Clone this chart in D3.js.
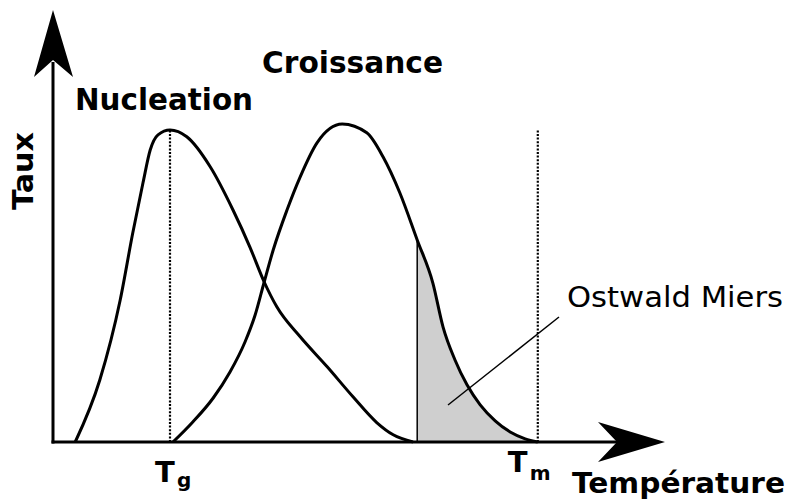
<!DOCTYPE html>
<html>
<head lang="fr">
    <meta charset="UTF-8">
    <title>Nucleation Croissance</title>
    <script type="text/javascript" src="https://cdn.jsdelivr.net/npm/d3@7/dist/d3.min.js"></script>
    <style>
        body { margin: 0; background: #fff; }
        text { font-family: "DejaVu Sans", sans-serif; fill: #000; }
    </style>
</head>
<body>
<svg id="mainSvg"></svg>
<script>
    var w = 787, h = 500;

    // temperature (0..100) and rate (0..100)
    var nucleationT = [3.7, 7.8, 11.2, 13.3, 15, 16.2, 17.5, 19.5, 22.3, 26.2, 30, 32.8, 35.2, 37.3, 41.2, 45.7, 50, 54, 56.7, 60];
    var nucleationRate = [0, 15.5, 35.5, 52.3, 64.8, 73, 76.8, 78, 76.3, 68.8, 58, 48.8, 40, 33.8, 26.3, 18.8, 11.3, 4.8, 1.8, 0];

    var croissanceT = [20, 23.3, 26.7, 29.5, 32, 33.7, 35.2, 36.7, 39, 41.2, 44, 48.2, 52.3, 55, 57.8, 60.7, 63.3, 65, 67, 69, 71.2, 73.7, 76.2, 78.7, 80.8];
    var croissanceRate = [0, 5, 11, 17.5, 25, 31.8, 40, 48, 58, 66.3, 74.8, 79.5, 77.3, 71.3, 62.3, 50.5, 39.8, 28.8, 20.5, 14.3, 9.3, 5.3, 2.5, 0.8, 0];

    var tickValues = [19.5, 80.8];
    var tickMain = ["T", "T"];
    var tickSub = ["g", "m"];

    var ostwaldStart = 60.7;
    var ostwaldEnd = 80.8;

    var x = d3.scaleLinear().domain([0, 100]).range([53, 653]);
    var y = d3.scaleLinear().domain([0, 100]).range([442, 42]);

    var svg = d3.select("#mainSvg").attr("width", w).attr("height", h);

    var nucleation = nucleationT.map(function (t, i) { return [t, nucleationRate[i]]; });
    var croissance = croissanceT.map(function (t, i) { return [t, croissanceRate[i]]; });

    var line = d3.line()
            .x(function (d) { return x(d[0]); })
            .y(function (d) { return y(d[1]); })
            .curve(d3.curveMonotoneX);

    var area = d3.area()
            .x(function (d) { return x(d[0]); })
            .y0(y(0))
            .y1(function (d) { return y(d[1]); })
            .curve(d3.curveMonotoneX);

    svg.append("clipPath")
            .attr("id", "ostwaldClip")
            .append("rect")
            .attr("x", x(ostwaldStart))
            .attr("y", 0)
            .attr("width", x(ostwaldEnd) - x(ostwaldStart))
            .attr("height", h);

    // Ostwald Miers zone
    svg.append("path")
            .datum(croissance)
            .attr("d", area)
            .attr("clip-path", "url(#ostwaldClip)")
            .attr("fill", "#cfcfcf");

    var startRate = croissanceRate[croissanceT.indexOf(ostwaldStart)];
    svg.append("line")
            .attr("x1", x(ostwaldStart)).attr("x2", x(ostwaldStart))
            .attr("y1", y(0)).attr("y2", y(startRate))
            .attr("stroke", "#000")
            .attr("stroke-width", 1.5);

    // dotted lines at Tg and Tm
    svg.selectAll("line.tick")
            .data(tickValues)
            .enter()
            .append("line")
            .attr("class", "tick")
            .attr("x1", function (d) { return x(d); })
            .attr("x2", function (d) { return x(d); })
            .attr("y1", y(0))
            .attr("y2", y(78))
            .attr("stroke", "#000")
            .attr("stroke-width", 2.2)
            .attr("stroke-dasharray", "2,1.6");

    svg.selectAll("path.curve")
            .data([nucleation, croissance])
            .enter()
            .append("path")
            .attr("class", "curve")
            .attr("d", line)
            .attr("fill", "none")
            .attr("stroke", "#000")
            .attr("stroke-width", 3);

    // axes
    svg.append("line")
            .attr("x1", x(0)).attr("x2", x(0))
            .attr("y1", y(0) + 1.5).attr("y2", 62)
            .attr("stroke", "#000").attr("stroke-width", 3);
    svg.append("line")
            .attr("x1", x(0) - 1.5).attr("x2", 620)
            .attr("y1", y(0)).attr("y2", y(0))
            .attr("stroke", "#000").attr("stroke-width", 3);

    svg.append("polygon")
            .attr("points", [[x(0), 10], [x(0) + 20, 77], [x(0), 60], [x(0) - 19, 77]].join(" "))
            .attr("fill", "#000");
    svg.append("polygon")
            .attr("points", [[665, y(0)], [598, y(0) - 20], [617, y(0)], [598, y(0) + 20]].join(" "))
            .attr("fill", "#000");

    // leader line
    svg.append("line")
            .attr("x1", 448).attr("y1", 405)
            .attr("x2", 559).attr("y2", 317)
            .attr("stroke", "#000")
            .attr("stroke-width", 1.5);

    // labels
    function label(txt, px, py, size, weight, len) {
        return svg.append("text")
                .attr("x", px)
                .attr("y", py)
                .attr("font-size", size)
                .attr("font-weight", weight)
                .attr("textLength", len)
                .attr("lengthAdjust", "spacingAndGlyphs")
                .text(txt);
    }

    label("Nucleation", 75, 110, 31, "bold", 178);
    label("Croissance", 262, 73, 31, "bold", 181);
    label("Ostwald Miers", 567, 307, 27.5, "normal", 216);
    label("Température", 572, 493, 29, "bold", 213);
    label("Taux", 0, 0, 29, "bold", 78)
            .attr("transform", "translate(33,210) rotate(-90)");

    var tickDx = [-15, -30];
    var tickDy = [482, 472];
    var tickSubDy = [487, 480];
    var tickLabels = svg.selectAll("g.tlabel")
            .data(tickValues)
            .enter()
            .append("g")
            .attr("class", "tlabel");
    tickLabels.append("text")
            .attr("x", function (d, i) { return x(d) + tickDx[i]; })
            .attr("y", function (d, i) { return tickDy[i]; })
            .attr("font-size", 29)
            .attr("font-weight", "bold")
            .text(function (d, i) { return tickMain[i]; });
    tickLabels.append("text")
            .attr("x", function (d, i) { return x(d) + tickDx[i] + 22; })
            .attr("y", function (d, i) { return tickSubDy[i]; })
            .attr("font-size", 20)
            .attr("font-weight", "bold")
            .text(function (d, i) { return tickSub[i]; });
</script>
</body>
</html>
